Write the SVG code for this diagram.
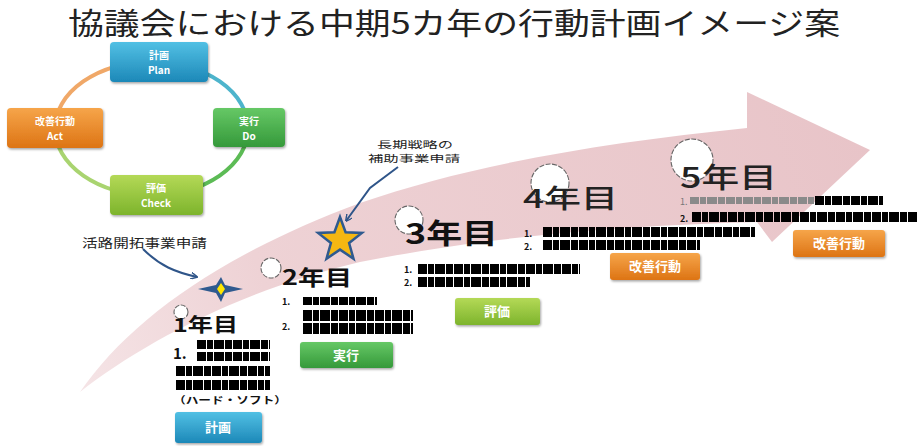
<svg xmlns="http://www.w3.org/2000/svg" width="922" height="446" viewBox="0 0 922 446">
<defs>
<linearGradient id="arrowG" x1="80" y1="390" x2="870" y2="150" gradientUnits="userSpaceOnUse">
<stop offset="0" stop-color="#f5e4e6"/>
<stop offset="0.25" stop-color="#eed2d5"/>
<stop offset="1" stop-color="#e8c4c8"/>
</linearGradient>
<linearGradient id="blueG" x1="0" y1="0" x2="0" y2="1"><stop offset="0" stop-color="#52c0e4"/><stop offset="1" stop-color="#1c88b8"/></linearGradient>
<linearGradient id="greenG" x1="0" y1="0" x2="0" y2="1"><stop offset="0" stop-color="#66c866"/><stop offset="1" stop-color="#35993a"/></linearGradient>
<linearGradient id="limeG" x1="0" y1="0" x2="0" y2="1"><stop offset="0" stop-color="#b4d957"/><stop offset="1" stop-color="#7db42c"/></linearGradient>
<linearGradient id="orangeG" x1="0" y1="0" x2="0" y2="1"><stop offset="0" stop-color="#f6a54a"/><stop offset="1" stop-color="#dd7414"/></linearGradient>
<filter id="smear" filterUnits="userSpaceOnUse" x="0" y="0" width="922" height="446"><feGaussianBlur stdDeviation="0.7"/></filter>
<filter id="shadow" x="-10%" y="-10%" width="130%" height="140%"><feDropShadow dx="1" dy="1.5" stdDeviation="1" flood-color="#000" flood-opacity="0.35"/></filter>
<marker id="ah" viewBox="0 0 10 10" refX="9" refY="5" markerWidth="7" markerHeight="7" orient="auto" markerUnits="userSpaceOnUse">
<path d="M0,0 L10,5 L0,10" fill="none" stroke="#2f5589" stroke-width="2"/>
</marker>
</defs>
<style>
text{font-family:"Noto Sans CJK JP","Noto Sans",sans-serif}
.title{font-size:30px;fill:#222}
.yr{fill:#111;font-weight:700}
.num{fill:#111;font-weight:700;font-size:9px}
.blob{fill:none;stroke:#050505;stroke-dasharray:9 1 6 1 10 1 7 1;filter:url(#smear)}
.btn{font-size:13px;font-weight:700;fill:#fff;text-anchor:middle}
.cyc{font-size:10px;font-weight:700;fill:#fff;text-anchor:middle}
.ann{font-size:9.6px;fill:#222}
.bulb{fill:#fff;stroke:#666;stroke-width:1.1;stroke-dasharray:5 1.5}
.ring{fill:none;stroke-width:4}
.lead{fill:none;stroke:#2f5589;stroke-width:2}
</style>
<rect width="922" height="446" fill="#fff"/>
<text class="title" x="68" y="34" textLength="772" lengthAdjust="spacingAndGlyphs">協議会における中期5カ年の行動計画イメージ案</text>

<g id="timeline-arrow">
<path d="M80,392 C130,320 220,255 360,203 C470,165 600,143 747,128 L747,92 L870,150 L772,242 L757,222 C600,226 470,240 360,262 C240,290 140,345 80,392 Z" fill="url(#arrowG)"/>
</g>

<g id="pdca-cycle">
<path class="ring" stroke="#4db4cc" d="M151.5,62 A96.5,66.5 0 0 1 248,128.5"/>
<path class="ring" stroke="#5cbb55" d="M248,128.5 A96.5,66.5 0 0 1 151.5,195"/>
<path class="ring" stroke="#a9d470" d="M151.5,195 A96.5,66.5 0 0 1 55,128.5"/>
<path class="ring" stroke="#f0a868" d="M55,128.5 A96.5,66.5 0 0 1 151.5,62"/>
<g id="cyc-plan"><rect x="110" y="42" width="98" height="40" rx="4" fill="url(#blueG)" filter="url(#shadow)"/><text class="cyc" x="159" y="59">計画</text><text class="cyc" x="159" y="74">Plan</text></g>
<g id="cyc-do"><rect x="213" y="108" width="72" height="39" rx="4" fill="url(#greenG)" filter="url(#shadow)"/><text class="cyc" x="249" y="125">実行</text><text class="cyc" x="249" y="140">Do</text></g>
<g id="cyc-check"><rect x="110" y="175" width="93" height="40" rx="4" fill="url(#limeG)" filter="url(#shadow)"/><text class="cyc" x="156" y="192">評価</text><text class="cyc" x="156" y="207">Check</text></g>
<g id="cyc-act"><rect x="7" y="108" width="96" height="40" rx="4" fill="url(#orangeG)" filter="url(#shadow)"/><text class="cyc" x="55" y="125">改善行動</text><text class="cyc" x="55" y="140">Act</text></g>
</g>

<g id="connectors">
<path class="lead" d="M143,249 C160,266 175,272 197,277" marker-end="url(#ah)"/>
<path class="lead" d="M398,167 L370,188 L346,221" marker-end="url(#ah)"/>
</g>

<g id="ann-1">
<text class="ann" x="82" y="248" style="font-size:12px" textLength="125" lengthAdjust="spacingAndGlyphs">活路開拓事業申請</text>
<path d="M198,289 L216,285 L221,277 L225,285 L243,289 L225,293 L221,302 L216,293 Z" fill="#2f5a8f"/>
<path d="M221,283 L225,289 L221,295 L217,289 Z" fill="#ffe600"/>
</g>
<g id="ann-2">
<text class="ann"><tspan x="377" y="148" textLength="76" lengthAdjust="spacingAndGlyphs">長期戦略の</tspan><tspan x="368" y="162" textLength="92" lengthAdjust="spacingAndGlyphs">補助事業申請</tspan></text>
<path d="M340,217 L345.6,232.3 L361.9,232.9 L349.1,243 L353.5,258.7 L340,249.6 L326.5,258.7 L330.9,243 L318.1,232.9 L334.4,232.3 Z" fill="#f5b712" stroke="#2f5a8f" stroke-width="2.5"/>
</g>

<g id="year-1">
<circle class="bulb" cx="181" cy="312" r="7"/>
<text class="yr" x="173" y="332" font-size="19" textLength="65" lengthAdjust="spacingAndGlyphs">1年目</text>
<text class="num" x="173" y="359" style="font-size:15px">1.</text>
<path class="blob" stroke-width="9" d="M197,344.5 H270 M197,356.5 H270"/>
<path class="blob" stroke-width="10" d="M176,371 H270 M176,385 H270"/>
<text class="yr" x="173" y="404" font-size="10" textLength="114" lengthAdjust="spacingAndGlyphs">（ハード・ソフト）</text>
<g id="btn-plan"><rect x="175" y="412" width="87" height="31" rx="3" fill="url(#blueG)" filter="url(#shadow)"/><text class="btn" x="218" y="432">計画</text></g>
</g>

<g id="year-2">
<circle class="bulb" cx="271" cy="268" r="10"/>
<text class="yr" x="282" y="285" font-size="21" textLength="70" lengthAdjust="spacingAndGlyphs">2年目</text>
<text class="num"><tspan x="282" y="305">1.</tspan><tspan x="282" y="330">2.</tspan></text>
<path class="blob" stroke-width="8" d="M303,301 H377"/>
<path class="blob" stroke-width="11" d="M303,315.5 H413 M303,328.5 H413"/>
<g id="btn-do"><rect x="300" y="342" width="93" height="26" rx="3" fill="url(#greenG)" filter="url(#shadow)"/><text class="btn" x="346" y="360">実行</text></g>
</g>

<g id="year-3">
<circle class="bulb" cx="409" cy="220" r="14"/>
<text class="yr" x="405" y="244" font-size="28" textLength="93" lengthAdjust="spacingAndGlyphs">3年目</text>
<text class="num"><tspan x="404" y="273">1.</tspan><tspan x="404" y="286">2.</tspan></text>
<path class="blob" stroke-width="10" d="M418,269 H580"/>
<path class="blob" stroke-width="10" d="M418,282 H530"/>
<g id="btn-check"><rect x="455" y="298" width="85" height="27" rx="3" fill="url(#limeG)" filter="url(#shadow)"/><text class="btn" x="497" y="316">評価</text></g>
</g>

<g id="year-4">
<circle class="bulb" cx="550" cy="183" r="19"/>
<text x="523" y="208" font-size="26" font-weight="500" fill="#222" textLength="95" lengthAdjust="spacingAndGlyphs">4年目</text>
<text class="num"><tspan x="524" y="237">1.</tspan><tspan x="524" y="250">2.</tspan></text>
<path class="blob" stroke-width="10" d="M543,232 H755"/>
<path class="blob" stroke-width="10" d="M543,245 H700"/>
<g id="btn-act4"><rect x="610" y="253" width="90" height="27" rx="3" fill="url(#orangeG)" filter="url(#shadow)"/><text class="btn" x="655" y="271">改善行動</text></g>
</g>

<g id="year-5">
<circle class="bulb" cx="692" cy="160" r="21"/>
<text x="680" y="188" font-size="28" font-weight="500" fill="#222" textLength="97" lengthAdjust="spacingAndGlyphs">5年目</text>
<text x="680" y="205" font-size="9" fill="#777">1.</text>
<path class="blob" stroke-width="7" style="stroke:#8a8a8a" d="M690,200.5 H815"/>
<path class="blob" stroke-width="9" d="M815,200.5 H883"/>
<text class="num" x="680" y="222">2.</text>
<path class="blob" stroke-width="10" d="M692,217 H917"/>
<g id="btn-act5"><rect x="793" y="230" width="92" height="27" rx="3" fill="url(#orangeG)" filter="url(#shadow)"/><text class="btn" x="839" y="248">改善行動</text></g>
</g>
</svg>
